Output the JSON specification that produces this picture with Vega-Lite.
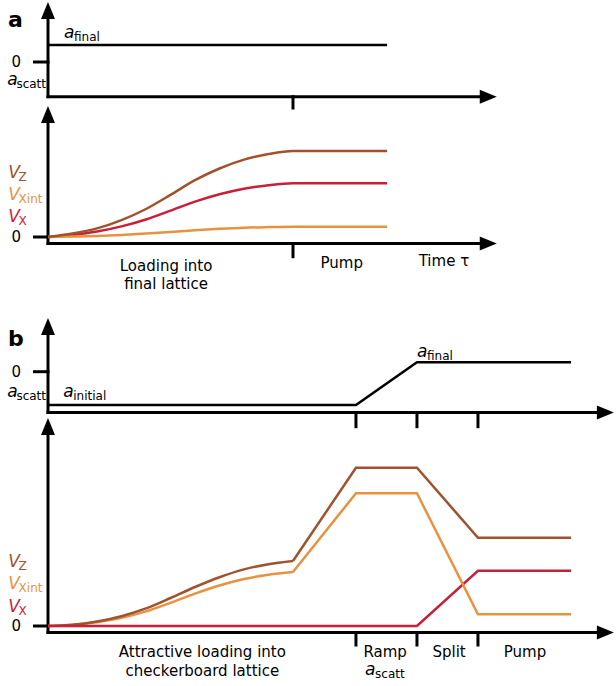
{
  "$schema": "https://vega.github.io/schema/vega-lite/v6.json",
  "padding": 0,
  "spacing": 0,
  "bounds": "flush",
  "background": "white",
  "config": {"view": {"stroke": null}, "font": "DejaVu Sans", "legend": {"disable": true}},
  "datasets": {
    "A1_rules": [
      {"t": 0, "v": -3.47, "t2": 0, "v2": 4.5},
      {"t": 0, "v": -3.47, "t2": 17.7, "v2": -3.47},
      {"t": -0.55, "v": 0, "t2": 0, "v2": 0},
      {"t": 10, "v": -3.47, "t2": 10, "v2": -4.6}
    ],
    "A1_heads": [
      {"t": 0, "v": 5.15, "dir": "up"},
      {"t": 17.97, "v": -3.47, "dir": "right"}
    ],
    "A1_lines": [
      {"series": "k", "kind": "straight", "t": 0, "v": 1.7},
      {"series": "k", "kind": "straight", "t": 13.84, "v": 1.7}
    ],
    "A1_text": [
      {"role": "bold", "text": "a", "t": -1.33, "v": 4.2, "series": "k"},
      {"role": "plain", "text": "0", "t": -1.3, "v": 0, "series": "k"},
      {"role": "ital", "text": "a", "t": -1.66, "v": -1.75, "series": "k"},
      {"role": "sub", "text": "scatt", "t": -1.29, "v": -1.75, "series": "k"},
      {"role": "ital", "text": "a", "t": 0.65, "v": 2.9, "series": "k"},
      {"role": "sub", "text": "final", "t": 1.06, "v": 2.9, "series": "k"}
    ],
    "A2_rules": [
      {"t": 0, "v": -0.65, "t2": 0, "v2": 11.6},
      {"t": 0, "v": -0.65, "t2": 17.7, "v2": -0.65},
      {"t": -0.55, "v": 0, "t2": 0, "v2": 0},
      {"t": 10, "v": -0.65, "t2": 10, "v2": -1.97}
    ],
    "A2_heads": [
      {"t": 0, "v": 12.25, "dir": "up"},
      {"t": 17.97, "v": -0.65, "dir": "right"}
    ],
    "A2_lines": [
      {"series": "X", "kind": "smooth", "t": 0, "v": 0},
      {"series": "X", "kind": "smooth", "t": 1, "v": 0.21},
      {"series": "X", "kind": "smooth", "t": 2, "v": 0.54},
      {"series": "X", "kind": "smooth", "t": 3, "v": 1.06},
      {"series": "X", "kind": "smooth", "t": 4, "v": 1.75},
      {"series": "X", "kind": "smooth", "t": 5, "v": 2.63},
      {"series": "X", "kind": "smooth", "t": 6, "v": 3.54},
      {"series": "X", "kind": "smooth", "t": 7, "v": 4.28},
      {"series": "X", "kind": "smooth", "t": 8, "v": 4.83},
      {"series": "X", "kind": "smooth", "t": 9, "v": 5.18},
      {"series": "X", "kind": "smooth", "t": 10, "v": 5.37},
      {"series": "X", "kind": "smooth", "t": 13.84, "v": 5.37},
      {"series": "Xint", "kind": "smooth", "t": 0, "v": 0},
      {"series": "Xint", "kind": "smooth", "t": 1, "v": 0.04},
      {"series": "Xint", "kind": "smooth", "t": 2, "v": 0.1},
      {"series": "Xint", "kind": "smooth", "t": 3, "v": 0.2},
      {"series": "Xint", "kind": "smooth", "t": 4, "v": 0.34},
      {"series": "Xint", "kind": "smooth", "t": 5, "v": 0.5},
      {"series": "Xint", "kind": "smooth", "t": 6, "v": 0.68},
      {"series": "Xint", "kind": "smooth", "t": 7, "v": 0.82},
      {"series": "Xint", "kind": "smooth", "t": 8, "v": 0.93},
      {"series": "Xint", "kind": "smooth", "t": 9, "v": 0.99},
      {"series": "Xint", "kind": "smooth", "t": 10, "v": 1.03},
      {"series": "Xint", "kind": "smooth", "t": 13.84, "v": 1.03},
      {"series": "Z", "kind": "smooth", "t": 0, "v": 0},
      {"series": "Z", "kind": "smooth", "t": 1, "v": 0.34},
      {"series": "Z", "kind": "smooth", "t": 2, "v": 0.86},
      {"series": "Z", "kind": "smooth", "t": 3, "v": 1.69},
      {"series": "Z", "kind": "smooth", "t": 4, "v": 2.8},
      {"series": "Z", "kind": "smooth", "t": 5, "v": 4.21},
      {"series": "Z", "kind": "smooth", "t": 6, "v": 5.68},
      {"series": "Z", "kind": "smooth", "t": 7, "v": 6.85},
      {"series": "Z", "kind": "smooth", "t": 8, "v": 7.74},
      {"series": "Z", "kind": "smooth", "t": 9, "v": 8.3},
      {"series": "Z", "kind": "smooth", "t": 10, "v": 8.6},
      {"series": "Z", "kind": "smooth", "t": 13.84, "v": 8.6}
    ],
    "A2_text": [
      {"role": "ital", "text": "V", "t": -1.62, "v": 6.4, "series": "Z"},
      {"role": "sub", "text": "Z", "t": -1.2, "v": 6.4, "series": "Z"},
      {"role": "ital", "text": "V", "t": -1.62, "v": 4.2, "series": "Xint"},
      {"role": "sub", "text": "Xint", "t": -1.2, "v": 4.2, "series": "Xint"},
      {"role": "ital", "text": "V", "t": -1.62, "v": 2.05, "series": "X"},
      {"role": "sub", "text": "X", "t": -1.2, "v": 2.05, "series": "X"},
      {"role": "plain", "text": "0", "t": -1.3, "v": 0, "series": "k"},
      {"role": "plain", "text": "Loading into", "t": 4.82, "v": -2.9, "series": "k"},
      {"role": "plain", "text": "final lattice", "t": 4.82, "v": -4.7, "series": "k"},
      {"role": "plain", "text": "Pump", "t": 11.99, "v": -2.6, "series": "k"},
      {"role": "plain", "text": "Time τ", "t": 16.16, "v": -2.4, "series": "k"}
    ],
    "B1_rules": [
      {"t": 0, "v": -4.08, "t2": 0, "v2": 3.8},
      {"t": 0, "v": -4.08, "t2": 22.4, "v2": -4.08},
      {"t": -0.55, "v": 0, "t2": 0, "v2": 0},
      {"t": 12.57, "v": -4.08, "t2": 12.57, "v2": -5.5},
      {"t": 15.06, "v": -4.08, "t2": 15.06, "v2": -5.5},
      {"t": 17.55, "v": -4.08, "t2": 17.55, "v2": -5.5}
    ],
    "B1_heads": [
      {"t": 0, "v": 4.52, "dir": "up"},
      {"t": 22.75, "v": -4.08, "dir": "right"}
    ],
    "B1_lines": [
      {"series": "k", "kind": "straight", "t": 0, "v": -3.33},
      {"series": "k", "kind": "straight", "t": 12.57, "v": -3.33},
      {"series": "k", "kind": "straight", "t": 15.06, "v": 0.94},
      {"series": "k", "kind": "straight", "t": 21.35, "v": 0.94}
    ],
    "B1_text": [
      {"role": "bold", "text": "b", "t": -1.31, "v": 3.27, "series": "k"},
      {"role": "plain", "text": "0", "t": -1.3, "v": 0, "series": "k"},
      {"role": "ital", "text": "a", "t": -1.66, "v": -2.03, "series": "k"},
      {"role": "sub", "text": "scatt", "t": -1.29, "v": -2.03, "series": "k"},
      {"role": "ital", "text": "a", "t": 0.62, "v": -2.03, "series": "k"},
      {"role": "sub", "text": "initial", "t": 1.03, "v": -2.03, "series": "k"},
      {"role": "ital", "text": "a", "t": 15.06, "v": 1.97, "series": "k"},
      {"role": "sub", "text": "final", "t": 15.47, "v": 1.97, "series": "k"}
    ],
    "B2_rules": [
      {"t": 0, "v": -0.65, "t2": 0, "v2": 19.3},
      {"t": 0, "v": -0.65, "t2": 22.4, "v2": -0.65},
      {"t": -0.55, "v": 0, "t2": 0, "v2": 0},
      {"t": 12.57, "v": -0.65, "t2": 12.57, "v2": -1.9},
      {"t": 15.06, "v": -0.65, "t2": 15.06, "v2": -1.9},
      {"t": 17.55, "v": -0.65, "t2": 17.55, "v2": -1.9}
    ],
    "B2_heads": [
      {"t": 0, "v": 19.95, "dir": "up"},
      {"t": 22.75, "v": -0.65, "dir": "right"}
    ],
    "B2_lines": [
      {"series": "X", "kind": "straight", "t": 0, "v": 0},
      {"series": "X", "kind": "straight", "t": 15.06, "v": 0},
      {"series": "X", "kind": "straight", "t": 17.55, "v": 5.53},
      {"series": "X", "kind": "straight", "t": 21.35, "v": 5.53},
      {"series": "Xint", "kind": "smooth", "t": 0, "v": 0},
      {"series": "Xint", "kind": "smooth", "t": 1, "v": 0.11},
      {"series": "Xint", "kind": "smooth", "t": 2, "v": 0.38},
      {"series": "Xint", "kind": "smooth", "t": 3, "v": 0.81},
      {"series": "Xint", "kind": "smooth", "t": 4, "v": 1.46},
      {"series": "Xint", "kind": "smooth", "t": 5, "v": 2.32},
      {"series": "Xint", "kind": "smooth", "t": 6, "v": 3.24},
      {"series": "Xint", "kind": "smooth", "t": 7, "v": 4.05},
      {"series": "Xint", "kind": "smooth", "t": 8, "v": 4.7},
      {"series": "Xint", "kind": "smooth", "t": 9, "v": 5.13},
      {"series": "Xint", "kind": "smooth", "t": 10, "v": 5.4},
      {"series": "Xint", "kind": "straight", "t": 10, "v": 5.4},
      {"series": "Xint", "kind": "straight", "t": 12.57, "v": 13.27},
      {"series": "Xint", "kind": "straight", "t": 15.06, "v": 13.27},
      {"series": "Xint", "kind": "straight", "t": 17.55, "v": 1.17},
      {"series": "Xint", "kind": "straight", "t": 21.35, "v": 1.17},
      {"series": "Z", "kind": "smooth", "t": 0, "v": 0},
      {"series": "Z", "kind": "smooth", "t": 1, "v": 0.13},
      {"series": "Z", "kind": "smooth", "t": 2, "v": 0.46},
      {"series": "Z", "kind": "smooth", "t": 3, "v": 0.98},
      {"series": "Z", "kind": "smooth", "t": 4, "v": 1.76},
      {"series": "Z", "kind": "smooth", "t": 5, "v": 2.8},
      {"series": "Z", "kind": "smooth", "t": 6, "v": 3.9},
      {"series": "Z", "kind": "smooth", "t": 7, "v": 4.88},
      {"series": "Z", "kind": "smooth", "t": 8, "v": 5.66},
      {"series": "Z", "kind": "smooth", "t": 9, "v": 6.18},
      {"series": "Z", "kind": "smooth", "t": 10, "v": 6.5},
      {"series": "Z", "kind": "straight", "t": 10, "v": 6.5},
      {"series": "Z", "kind": "straight", "t": 12.57, "v": 15.83},
      {"series": "Z", "kind": "straight", "t": 15.06, "v": 15.83},
      {"series": "Z", "kind": "straight", "t": 17.55, "v": 8.83},
      {"series": "Z", "kind": "straight", "t": 21.35, "v": 8.83}
    ],
    "B2_text": [
      {"role": "ital", "text": "V", "t": -1.62, "v": 6.43, "series": "Z"},
      {"role": "sub", "text": "Z", "t": -1.2, "v": 6.43, "series": "Z"},
      {"role": "ital", "text": "V", "t": -1.62, "v": 4.2, "series": "Xint"},
      {"role": "sub", "text": "Xint", "t": -1.2, "v": 4.2, "series": "Xint"},
      {"role": "ital", "text": "V", "t": -1.62, "v": 1.93, "series": "X"},
      {"role": "sub", "text": "X", "t": -1.2, "v": 1.93, "series": "X"},
      {"role": "plain", "text": "0", "t": -1.3, "v": 0, "series": "k"},
      {"role": "plain", "text": "Attractive loading into", "t": 6.3, "v": -2.6, "series": "k"},
      {"role": "plain", "text": "checkerboard lattice", "t": 6.3, "v": -4.5, "series": "k"},
      {"role": "plain", "text": "Ramp", "t": 13.76, "v": -2.6, "series": "k"},
      {"role": "ital", "text": "a", "t": 12.94, "v": -4.4, "series": "k"},
      {"role": "sub", "text": "scatt", "t": 13.35, "v": -4.4, "series": "k"},
      {"role": "plain", "text": "Split", "t": 16.37, "v": -2.6, "series": "k"},
      {"role": "plain", "text": "Pump", "t": 19.47, "v": -2.6, "series": "k"}
    ]
  },
  "vconcat": [
    {
      "width": 616, "height": 110,
      "encoding": {
        "x": {"field": "t", "type": "quantitative", "scale": {"domain": [-1.959, 23.184], "nice": false, "zero": false}, "axis": null},
        "y": {"field": "v", "type": "quantitative", "scale": {"domain": [-4.8, 6.2], "nice": false, "zero": false}, "axis": null}
      },
      "layer": [
        {"data": {"name": "A1_rules"}, "mark": {"type": "rule", "strokeWidth": 3, "color": "black", "strokeCap": "square"}, "encoding": {"x2": {"field": "t2"}, "y2": {"field": "v2"}}},
        {"data": {"name": "A1_heads"}, "mark": {"type": "point", "filled": true, "color": "black", "opacity": 1, "size": 289, "strokeWidth": 0}, "encoding": {"shape": {"field": "dir", "type": "nominal", "scale": {"domain": ["up", "right"], "range": ["M0,-1L0.82,1L-0.82,1Z", "M1,0L-1,0.82L-1,-0.82Z"]}, "legend": null}}},
        {"data": {"name": "A1_lines"}, "mark": {"type": "line", "interpolate": "linear", "strokeWidth": 2.5}, "encoding": {"color": {"field": "series", "type": "nominal", "scale": {"domain": ["Z", "Xint", "X", "k"], "range": ["#a0522d", "#e8923f", "#c81f3a", "#000000"]}, "legend": null}}},
        {"data": {"name": "A1_text"}, "transform": [{"filter": "datum.role === 'plain'"}], "mark": {"type": "text", "fontSize": 15, "align": "center", "baseline": "middle", "color": "black"}, "encoding": {"text": {"field": "text"}}},
        {"data": {"name": "A1_text"}, "transform": [{"filter": "datum.role === 'bold'"}], "mark": {"type": "text", "fontSize": 22, "fontWeight": "bold", "align": "center", "baseline": "middle", "color": "black"}, "encoding": {"text": {"field": "text"}}},
        {"data": {"name": "A1_text"}, "transform": [{"filter": "datum.role === 'ital'"}], "mark": {"type": "text", "fontSize": 17, "fontStyle": "italic", "align": "left", "baseline": "middle"}, "encoding": {"text": {"field": "text"}, "color": {"field": "series", "type": "nominal", "scale": {"domain": ["Z", "Xint", "X", "k"], "range": ["#a0522d", "#e8923f", "#c81f3a", "#000000"]}, "legend": null}}},
        {"data": {"name": "A1_text"}, "transform": [{"filter": "datum.role === 'sub'"}], "mark": {"type": "text", "fontSize": 12, "dy": 4, "align": "left", "baseline": "middle"}, "encoding": {"text": {"field": "text"}, "color": {"field": "series", "type": "nominal", "scale": {"domain": ["Z", "Xint", "X", "k"], "range": ["#a0522d", "#e8923f", "#c81f3a", "#000000"]}, "legend": null}}}
      ]
    },
    {
      "width": 616, "height": 190,
      "encoding": {
        "x": {"field": "t", "type": "quantitative", "scale": {"domain": [-1.959, 23.184], "nice": false, "zero": false}, "axis": null},
        "y": {"field": "v", "type": "quantitative", "scale": {"domain": [-6.3, 12.7], "nice": false, "zero": false}, "axis": null}
      },
      "layer": [
        {"data": {"name": "A2_rules"}, "mark": {"type": "rule", "strokeWidth": 3, "color": "black", "strokeCap": "square"}, "encoding": {"x2": {"field": "t2"}, "y2": {"field": "v2"}}},
        {"data": {"name": "A2_heads"}, "mark": {"type": "point", "filled": true, "color": "black", "opacity": 1, "size": 289, "strokeWidth": 0}, "encoding": {"shape": {"field": "dir", "type": "nominal", "scale": {"domain": ["up", "right"], "range": ["M0,-1L0.82,1L-0.82,1Z", "M1,0L-1,0.82L-1,-0.82Z"]}, "legend": null}}},
        {"data": {"name": "A2_lines"}, "mark": {"type": "line", "interpolate": "monotone", "strokeWidth": 2.5}, "encoding": {"color": {"field": "series", "type": "nominal", "scale": {"domain": ["Z", "Xint", "X", "k"], "range": ["#a0522d", "#e8923f", "#c81f3a", "#000000"]}, "legend": null}}},
        {"data": {"name": "A2_text"}, "transform": [{"filter": "datum.role === 'plain'"}], "mark": {"type": "text", "fontSize": 15, "align": "center", "baseline": "middle", "color": "black"}, "encoding": {"text": {"field": "text"}}},
        {"data": {"name": "A2_text"}, "transform": [{"filter": "datum.role === 'ital'"}], "mark": {"type": "text", "fontSize": 17, "fontStyle": "italic", "align": "left", "baseline": "middle"}, "encoding": {"text": {"field": "text"}, "color": {"field": "series", "type": "nominal", "scale": {"domain": ["Z", "Xint", "X", "k"], "range": ["#a0522d", "#e8923f", "#c81f3a", "#000000"]}, "legend": null}}},
        {"data": {"name": "A2_text"}, "transform": [{"filter": "datum.role === 'sub'"}], "mark": {"type": "text", "fontSize": 12, "dy": 4, "align": "left", "baseline": "middle"}, "encoding": {"text": {"field": "text"}, "color": {"field": "series", "type": "nominal", "scale": {"domain": ["Z", "Xint", "X", "k"], "range": ["#a0522d", "#e8923f", "#c81f3a", "#000000"]}, "legend": null}}}
      ]
    },
    {
      "width": 616, "height": 115,
      "encoding": {
        "x": {"field": "t", "type": "quantitative", "scale": {"domain": [-1.959, 23.184], "nice": false, "zero": false}, "axis": null},
        "y": {"field": "v", "type": "quantitative", "scale": {"domain": [-4.33, 7.17], "nice": false, "zero": false}, "axis": null}
      },
      "layer": [
        {"data": {"name": "B1_rules"}, "mark": {"type": "rule", "strokeWidth": 3, "color": "black", "strokeCap": "square"}, "encoding": {"x2": {"field": "t2"}, "y2": {"field": "v2"}}},
        {"data": {"name": "B1_heads"}, "mark": {"type": "point", "filled": true, "color": "black", "opacity": 1, "size": 289, "strokeWidth": 0}, "encoding": {"shape": {"field": "dir", "type": "nominal", "scale": {"domain": ["up", "right"], "range": ["M0,-1L0.82,1L-0.82,1Z", "M1,0L-1,0.82L-1,-0.82Z"]}, "legend": null}}},
        {"data": {"name": "B1_lines"}, "mark": {"type": "line", "interpolate": "linear", "strokeWidth": 2.5}, "encoding": {"color": {"field": "series", "type": "nominal", "scale": {"domain": ["Z", "Xint", "X", "k"], "range": ["#a0522d", "#e8923f", "#c81f3a", "#000000"]}, "legend": null}}},
        {"data": {"name": "B1_text"}, "transform": [{"filter": "datum.role === 'plain'"}], "mark": {"type": "text", "fontSize": 15, "align": "center", "baseline": "middle", "color": "black"}, "encoding": {"text": {"field": "text"}}},
        {"data": {"name": "B1_text"}, "transform": [{"filter": "datum.role === 'bold'"}], "mark": {"type": "text", "fontSize": 22, "fontWeight": "bold", "align": "center", "baseline": "middle", "color": "black"}, "encoding": {"text": {"field": "text"}}},
        {"data": {"name": "B1_text"}, "transform": [{"filter": "datum.role === 'ital'"}], "mark": {"type": "text", "fontSize": 17, "fontStyle": "italic", "align": "left", "baseline": "middle"}, "encoding": {"text": {"field": "text"}, "color": {"field": "series", "type": "nominal", "scale": {"domain": ["Z", "Xint", "X", "k"], "range": ["#a0522d", "#e8923f", "#c81f3a", "#000000"]}, "legend": null}}},
        {"data": {"name": "B1_text"}, "transform": [{"filter": "datum.role === 'sub'"}], "mark": {"type": "text", "fontSize": 12, "dy": 4, "align": "left", "baseline": "middle"}, "encoding": {"text": {"field": "text"}, "color": {"field": "series", "type": "nominal", "scale": {"domain": ["Z", "Xint", "X", "k"], "range": ["#a0522d", "#e8923f", "#c81f3a", "#000000"]}, "legend": null}}}
      ]
    },
    {
      "width": 616, "height": 271,
      "encoding": {
        "x": {"field": "t", "type": "quantitative", "scale": {"domain": [-1.959, 23.184], "nice": false, "zero": false}, "axis": null},
        "y": {"field": "v", "type": "quantitative", "scale": {"domain": [-6.0, 21.1], "nice": false, "zero": false}, "axis": null}
      },
      "layer": [
        {"data": {"name": "B2_rules"}, "mark": {"type": "rule", "strokeWidth": 3, "color": "black", "strokeCap": "square"}, "encoding": {"x2": {"field": "t2"}, "y2": {"field": "v2"}}},
        {"data": {"name": "B2_heads"}, "mark": {"type": "point", "filled": true, "color": "black", "opacity": 1, "size": 289, "strokeWidth": 0}, "encoding": {"shape": {"field": "dir", "type": "nominal", "scale": {"domain": ["up", "right"], "range": ["M0,-1L0.82,1L-0.82,1Z", "M1,0L-1,0.82L-1,-0.82Z"]}, "legend": null}}},
        {"data": {"name": "B2_lines"}, "transform": [{"filter": "datum.kind === 'smooth'"}], "mark": {"type": "line", "interpolate": "monotone", "strokeWidth": 2.5}, "encoding": {"color": {"field": "series", "type": "nominal", "scale": {"domain": ["Z", "Xint", "X", "k"], "range": ["#a0522d", "#e8923f", "#c81f3a", "#000000"]}, "legend": null}}},
        {"data": {"name": "B2_lines"}, "transform": [{"filter": "datum.kind === 'straight'"}], "mark": {"type": "line", "interpolate": "linear", "strokeWidth": 2.5}, "encoding": {"color": {"field": "series", "type": "nominal", "scale": {"domain": ["Z", "Xint", "X", "k"], "range": ["#a0522d", "#e8923f", "#c81f3a", "#000000"]}, "legend": null}}},
        {"data": {"name": "B2_text"}, "transform": [{"filter": "datum.role === 'plain'"}], "mark": {"type": "text", "fontSize": 15, "align": "center", "baseline": "middle", "color": "black"}, "encoding": {"text": {"field": "text"}}},
        {"data": {"name": "B2_text"}, "transform": [{"filter": "datum.role === 'ital'"}], "mark": {"type": "text", "fontSize": 17, "fontStyle": "italic", "align": "left", "baseline": "middle"}, "encoding": {"text": {"field": "text"}, "color": {"field": "series", "type": "nominal", "scale": {"domain": ["Z", "Xint", "X", "k"], "range": ["#a0522d", "#e8923f", "#c81f3a", "#000000"]}, "legend": null}}},
        {"data": {"name": "B2_text"}, "transform": [{"filter": "datum.role === 'sub'"}], "mark": {"type": "text", "fontSize": 12, "dy": 4, "align": "left", "baseline": "middle"}, "encoding": {"text": {"field": "text"}, "color": {"field": "series", "type": "nominal", "scale": {"domain": ["Z", "Xint", "X", "k"], "range": ["#a0522d", "#e8923f", "#c81f3a", "#000000"]}, "legend": null}}}
      ]
    }
  ]
}
